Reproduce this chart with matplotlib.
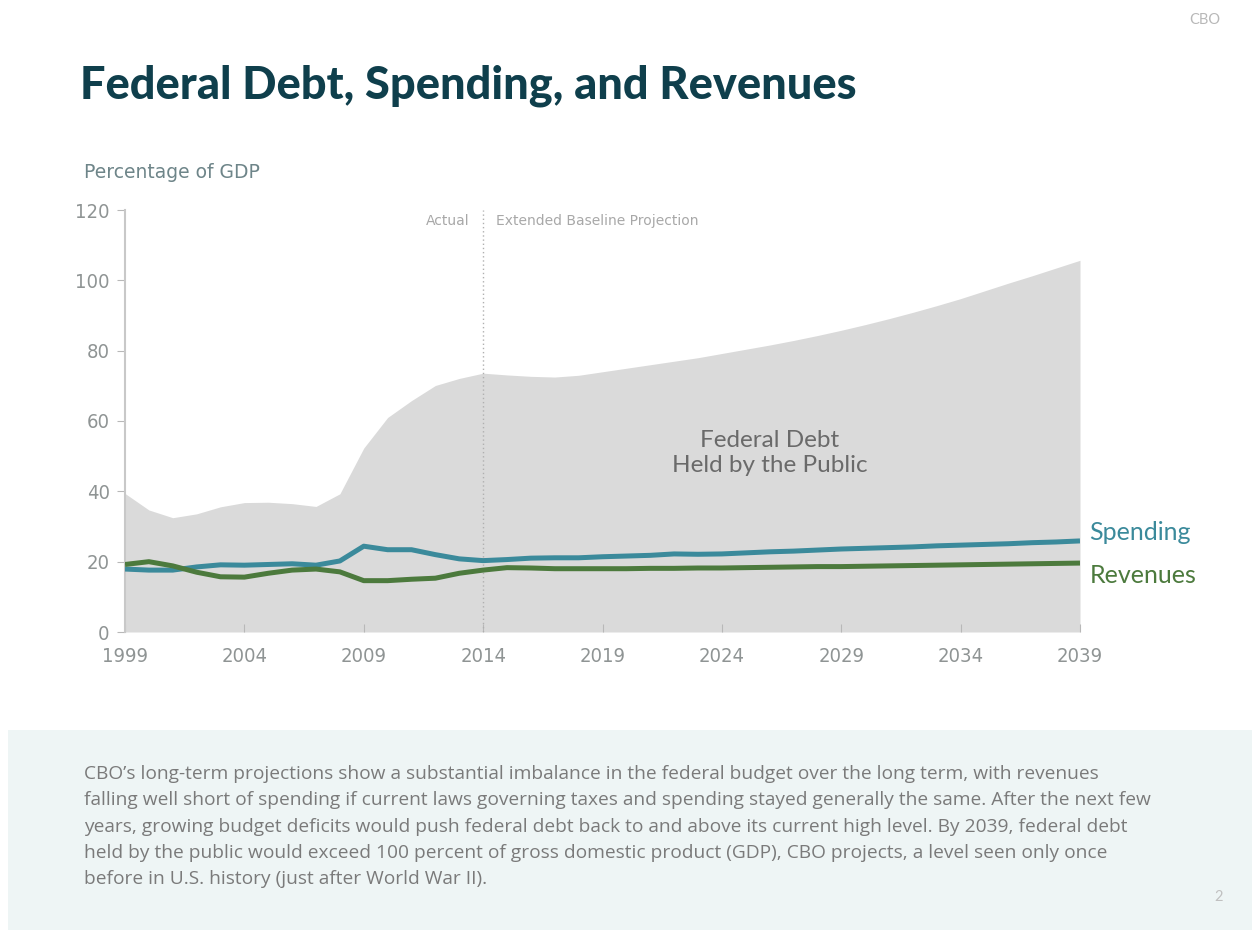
#!/usr/bin/env python3

import numpy as np
from matplotlib import pyplot as plt
from matplotlib.patches import Rectangle

# Budget figures as a share of GDP, actual through 2014, projected after
years = list(range(1999, 2040))
debt = [39.4, 34.7, 32.5, 33.6, 35.6, 36.8, 36.9, 36.5, 35.7, 39.3,
        52.3, 61.0, 65.8, 70.1, 72.1, 73.6, 73.1, 72.7, 72.5, 73.0,
        74.0, 75.0, 76.0, 77.0, 78.0, 79.2, 80.4, 81.6, 82.9, 84.3,
        85.8, 87.4, 89.1, 90.9, 92.8, 94.8, 97.0, 99.2, 101.3, 103.5,
        105.7]
spending = [17.9, 17.6, 17.6, 18.5, 19.1, 19.0, 19.2, 19.4, 19.0, 20.2,
            24.4, 23.4, 23.4, 22.0, 20.8, 20.3, 20.6, 21.0, 21.1, 21.1,
            21.4, 21.6, 21.8, 22.2, 22.1, 22.2, 22.5, 22.8, 23.0, 23.3,
            23.6, 23.8, 24.0, 24.2, 24.5, 24.7, 24.9, 25.1, 25.4, 25.6,
            25.9]
revenues = [19.2, 20.0, 18.8, 17.0, 15.7, 15.6, 16.7, 17.6, 17.9, 17.1,
            14.6, 14.6, 15.0, 15.3, 16.7, 17.6, 18.3, 18.2, 18.0, 18.0,
            18.0, 18.0, 18.1, 18.1, 18.2, 18.2, 18.3, 18.4, 18.5, 18.6,
            18.6, 18.7, 18.8, 18.9, 19.0, 19.1, 19.2, 19.3, 19.4, 19.5,
            19.6]
xticks = [1999, 2004, 2009, 2014, 2019, 2024, 2029, 2034, 2039]
yticks = [0, 20, 40, 60, 80, 100, 120]
split_year = 2014

note = ("CBO\u2019s long-term projections show a substantial imbalance in the federal budget over the long term, with revenues\n"
        "falling well short of spending if current laws governing taxes and spending stayed generally the same. After the next few\n"
        "years, growing budget deficits would push federal debt back to and above its current high level. By 2039, federal debt\n"
        "held by the public would exceed 100 percent of gross domestic product (GDP), CBO projects, a level seen only once\n"
        "before in U.S. history (just after World War II).")

NARROW = ['DejaVu Sans']
BODY = ['Lato', 'DejaVu Sans']
WIDE = ['Open Sans', 'DejaVu Sans']
SPEND_C = '#3b8a9b'
REV_C = '#4c7a3d'
TICK_C = '#8f9494'

fig = plt.figure(figsize=(12.52, 9.30), dpi=100)

# light panel behind the note text
fig.patches.append(Rectangle((8/1252, 0), 1 - 8/1252, 200/930, transform=fig.transFigure,
                             facecolor='#eef5f5', edgecolor='none', zorder=0))

ax = fig.add_axes([125/1252, 1 - 632/930, 955/1252, 422/930])
ax.fill_between(years, 0, debt, color='#dadada', linewidth=0, zorder=1)
ax.plot(years, spending, color=SPEND_C, lw=3.6, solid_capstyle='butt', zorder=3)
ax.plot(years, revenues, color=REV_C, lw=3.6, solid_capstyle='butt', zorder=3)
ax.axvline(split_year, color='#b0b0b0', lw=1, ls=(0, (1, 2)), zorder=2)

ax.set_xlim(1999, 2039)
ax.set_ylim(0, 120)
ax.set_xticks(xticks)
ax.set_yticks(yticks)
ax.set_xticklabels([str(x) for x in xticks], family=NARROW, fontstretch='condensed',
                   fontsize=14.5, color=TICK_C)
ax.set_yticklabels([str(y) for y in yticks], family=NARROW, fontstretch='condensed',
                   fontsize=14.5, color=TICK_C)
ax.tick_params(axis='x', direction='in', length=6, color='#b8b8b8', pad=11)
ax.tick_params(axis='y', direction='out', length=6, color='#b8b8b8', pad=5)
for s in ['top', 'right', 'bottom']:
    ax.spines[s].set_visible(False)
ax.spines['left'].set_color('#c8c8c8')
ax.spines['left'].set_linewidth(1.5)
ax.patch.set_visible(False)

ax.text(split_year - 0.55, 117, 'Actual', family=NARROW, fontsize=10, color='#a8a8a8',
        ha='right', va='center')
ax.text(split_year + 0.55, 117, 'Extended Baseline Projection', family=NARROW, fontsize=10,
        color='#a8a8a8', ha='left', va='center')
ax.text(2026.0, 51, 'Federal Debt\nHeld by the Public', family=BODY, fontsize=17.5,
        color='#6a6a6a', ha='center', va='center', linespacing=1.25)
ax.text(2039.4, spending[-1] + 2.5, 'Spending', family=BODY, fontsize=18, color=SPEND_C,
        ha='left', va='center', clip_on=False)
ax.text(2039.4, revenues[-1] - 3.5, 'Revenues', family=BODY, fontsize=18, color=REV_C,
        ha='left', va='center', clip_on=False)

fig.text(84/1252, 1 - 172/930, 'Percentage of GDP', family=NARROW, fontsize=13.5,
         color='#6e8589', ha='left', va='center')
fig.text(80/1252, 1 - 86/930, 'Federal Debt, Spending, and Revenues', family=BODY,
         fontsize=32.5, fontweight='black', color='#0f3f4c', ha='left', va='center')
fig.text(1205/1252, 1 - 20/930, 'CBO', family=BODY, fontsize=10.5, color='#b8b8b8',
         ha='center', va='center')
fig.text(84/1252, 1 - 765/930, note, family=WIDE, fontsize=13.8, color='#7a7a7a',
         ha='left', va='top', linespacing=1.59)
fig.text(1219/1252, 1 - 897/930, '2', family=BODY, fontsize=10.5, color='#c0c0c0',
         ha='center', va='center')

fig.savefig('out.png', dpi=100, facecolor='white')
